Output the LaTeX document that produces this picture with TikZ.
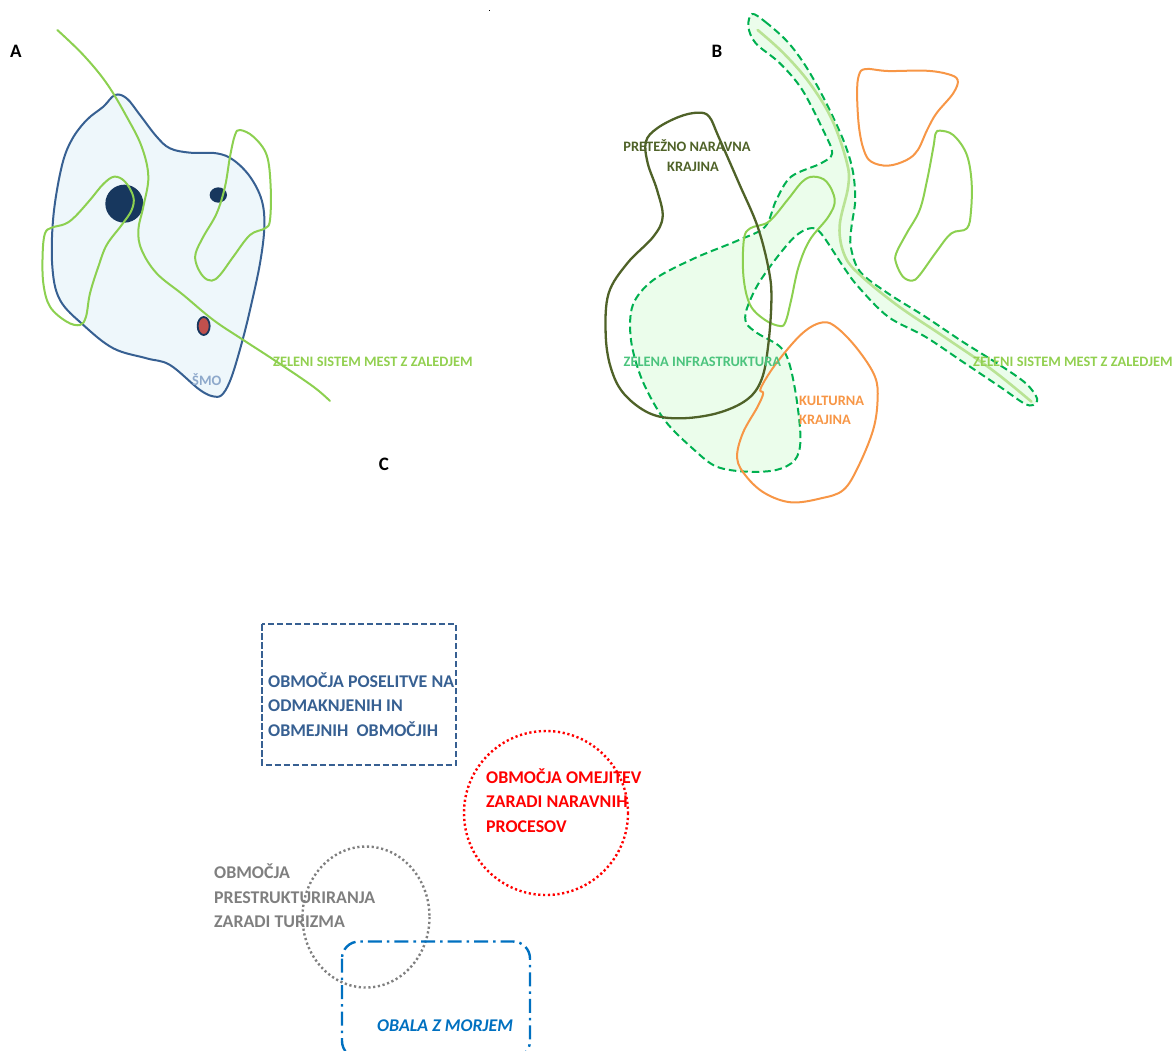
\documentclass[tikz,border=0pt]{standalone}
\usepackage{fontspec}
\setmainfont{Carlito}[BoldFont={Carlito Bold},ItalicFont={Carlito Italic},BoldItalicFont={Carlito Bold Italic}]
\definecolor{lgreen}{HTML}{92D050}
\definecolor{lgreenB}{HTML}{8CD050}
\definecolor{pale}{HTML}{B9E394}
\definecolor{dgreen}{HTML}{00B050}
\definecolor{palefill}{HTML}{EBFDEB}
\definecolor{palesea}{HTML}{EEF7FB}
\definecolor{olive}{HTML}{4F6228}
\definecolor{orange}{HTML}{F79646}
\definecolor{navy}{HTML}{17375E}
\definecolor{sblue}{HTML}{376092}
\definecolor{cblue}{HTML}{0070C0}
\definecolor{grey7}{HTML}{7F7F7F}
\definecolor{smo}{HTML}{8EA9CB}
\definecolor{infra}{HTML}{4CC47E}
\tikzset{
  zoomed/.style={x=0.33333pt,y=-0.33333pt},
  zoomedB/.style={x=0.3725pt,y=-0.33333pt},
  blob/.style={line width=2pt,line join=round},
  lab/.style={font=\bfseries\fontsize{14.4}{14.4}\selectfont,anchor=west,inner sep=0pt},
  multi/.style={font=\bfseries\fontsize{14.4}{20}\selectfont,align=center,anchor=center,inner sep=0pt},
  big/.style={font=\bfseries\fontsize{17.9}{24.4}\selectfont,align=left,anchor=north west,inner sep=0pt},
  letter/.style={font=\bfseries\fontsize{19}{19}\selectfont,inner sep=0pt}
}
\begin{document}
\begin{tikzpicture}[x=1pt,y=-1pt]
\useasboundingbox (0,0) rectangle (1174,1050);
\clip (0,0) rectangle (1174,1050);
\fill[black] (489,10) rectangle +(1,1);
% ---------- A
\begin{scope}[zoomed]
\draw[blob,sblue,fill=palesea] plot[smooth cycle,tension=0.6] coordinates {(345,285)(380,295)(420,345)(470,410)(510,445)(570,458)(650,460)(700,480)(750,530)(785,600)(793,680)(780,790)(750,930)(725,1030)(695,1130)(670,1180)(645,1190)(600,1170)(510,1095)(440,1075)(340,1045)(250,975)(180,900)(157,800)(160,650)(185,500)(215,420)(260,360)(310,320)};
\fill[navy] (373,611) circle (57);
\fill[navy] (655,585) ellipse (26 and 23);
\draw[navy,line width=1.8pt,fill={rgb,255:red,192;green,80;blue,77}] (611,978) ellipse (18 and 27);
\draw[blob,lgreenB,line cap=round] plot[smooth,tension=0.6] coordinates {(172,90)(250,165)(320,250)(380,350)(425,440)(445,530)(430,620)(415,690)(425,750)(470,820)(550,885)(640,960)(730,1020)(830,1085)(940,1160)(990,1203)};
\draw[blob,lgreenB] plot[smooth cycle,tension=0.6] coordinates {(155,683)(195,672)(225,650)(270,600)(310,552)(343,530)(375,545)(400,590)(395,630)(365,675)(320,735)(295,800)(270,880)(258,950)(240,975)(200,965)(150,920)(130,850)(128,760)(135,700)};
\draw[blob,lgreenB] plot[smooth cycle,tension=0.6] coordinates {(720,390)(760,410)(800,465)(812,560)(810,660)(795,685)(750,705)(700,770)(660,825)(635,842)(610,830)(590,795)(587,760)(610,710)(650,640)(675,560)(690,470)(705,405)};
\end{scope}
\node[letter] (la) at (16,51) {A};
\node[lab,text=lgreen] (ta1) at (273,361.5) {ZELENI SISTEM MEST Z ZALEDJEM};
\node[lab,text=smo] (tsmo) at (192,380) {ŠMO};
% ---------- B
\begin{scope}[shift={(590,0)},zoomedB]
\draw[dgreen,line width=2pt,dash pattern=on 7.5pt off 4pt,fill=palefill] plot[smooth cycle,tension=0.55] coordinates {(435,42)(470,65)(530,125)(580,200)(630,300)(680,420)(705,510)(712,600)(702,680)(700,740)(725,815)(800,880)(900,950)(1000,1025)(1100,1095)(1170,1150)(1200,1195)(1190,1215)(1165,1210)(1100,1160)(1000,1085)(900,1010)(800,950)(720,860)(680,800)(620,700)(590,685)(550,710)(500,775)(450,855)(420,930)(420,970)(450,1000)(510,1040)(535,1090)(555,1200)(565,1320)(550,1380)(500,1410)(420,1415)(340,1400)(280,1350)(200,1260)(140,1140)(110,1020)(115,915)(170,840)(280,775)(400,720)(470,680)(500,600)(540,530)(620,490)(650,460)(630,400)(570,270)(510,190)(445,130)(425,80)};
\draw[pale,line width=2.6pt,line cap=round] plot[smooth,tension=0.6] coordinates {(450,90)(520,160)(590,250)(650,360)(690,490)(693,560)(670,680)(685,770)(730,830)(830,920)(950,1010)(1080,1110)(1185,1205)};
\draw[blob,orange] plot[smooth cycle,tension=0.6] coordinates {(740,207)(800,213)(900,212)(960,222)(987,240)(975,280)(930,340)(905,390)(880,450)(850,480)(800,497)(755,485)(735,450)(722,380)(717,280)(722,225)};
\draw[blob,lgreenB] plot[smooth cycle,tension=0.6] coordinates {(940,392)(975,405)(1010,460)(1024,540)(1023,630)(1012,685)(970,700)(930,755)(885,825)(865,842)(840,830)(822,790)(822,760)(850,700)(885,630)(905,540)(922,440)(928,400)};
\draw[blob,lgreenB] plot[smooth cycle,tension=0.6] coordinates {(600,530)(635,545)(657,600)(640,650)(590,720)(560,800)(540,900)(525,965)(510,978)(470,960)(430,915)(412,830)(413,720)(430,685)(480,665)(530,600)(570,545)};
\draw[olive,line width=2.3pt,line join=round] plot[smooth cycle,tension=0.6] coordinates {(290,338)(320,350)(345,410)(400,550)(450,680)(480,810)(487,900)(478,1040)(460,1140)(420,1200)(340,1240)(240,1255)(160,1240)(90,1180)(55,1100)(42,1000)(50,880)(100,790)(170,710)(195,650)(180,570)(155,490)(150,425)(180,385)(240,350)};
\draw[blob,orange] plot[smooth cycle,tension=0.6] coordinates {(625,967)(665,985)(720,1050)(765,1130)(772,1200)(760,1290)(720,1400)(680,1470)(620,1495)(540,1507)(470,1480)(420,1430)(395,1375)(410,1300)(450,1220)(465,1180)(458,1165)(500,1090)(570,1000)};
\end{scope}
\node[letter] (lb) at (717,51) {B};
\node[multi,text=olive] (tpn) at (687,156) {PRETEŽNO NARAVNA\\\hspace*{12pt}KRAJINA};
\node[lab,text=infra] (tzi) at (623.5,361.5) {ZELENA INFRASTRUKTURA};
\node[lab,text=lgreen] (ta2) at (973,361.5) {ZELENI SISTEM MEST Z ZALEDJEM};
\node[font=\bfseries\fontsize{14.4}{19}\selectfont,align=left,anchor=west,inner sep=0pt,text=orange] (tkk) at (799,410) {KULTURNA\\KRAJINA};
% ---------- C
\node[letter] (lc) at (384,464) {C};
\draw[sblue,line width=2pt,dash pattern=on 6.5pt off 2.5pt] (262,624) rectangle (456,764.5);
\node[big,text=sblue] (tp) at (268,672.5) {OBMOČJA POSELITVE NA\\ODMAKNJENIH IN\\OBMEJNIH\ \ OBMOČJIH};
\draw[red,line width=2.4pt,dash pattern=on 2.2pt off 2.6pt] (546,813) circle (82);
\node[big,text=red] (to) at (486,768.5) {OBMOČJA OMEJITEV\\ZARADI NARAVNIH\\PROCESOV};
\draw[grey7,line width=2.4pt,dash pattern=on 2.2pt off 2.6pt] (366,917) ellipse (63.5 and 70.5);
\node[big,text=grey7] (tg) at (214,864) {OBMOČJA\\PRESTRUKTURIRANJA\\ZARADI TURIZMA};
\draw[cblue,line width=2.4pt,rounded corners=17pt,dash pattern=on 14pt off 5pt on 2.5pt off 5pt] (342,941.5) rectangle (530,1058);
\node[font=\bfseries\itshape\fontsize{17.9}{17.9}\selectfont,text=cblue,anchor=west,inner sep=0pt] (tob) at (377,1026) {OBALA Z MORJEM};
\end{tikzpicture}
\end{document}
